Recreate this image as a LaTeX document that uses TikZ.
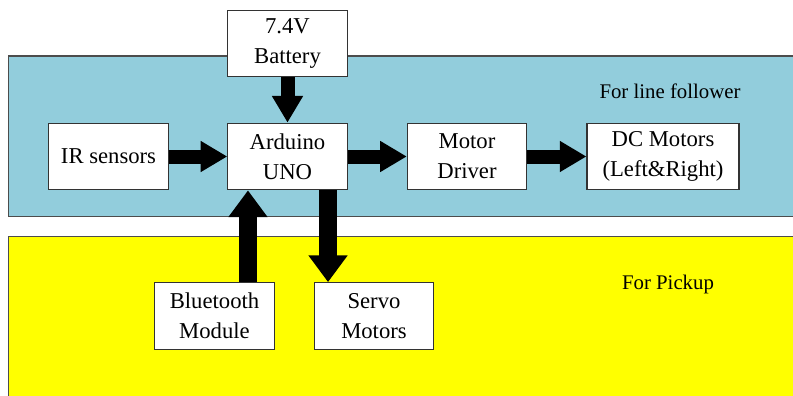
\documentclass[tikz,border=0pt]{standalone}
\usepackage{fontspec}
\setmainfont{Liberation Serif}
\usepackage{tikz}
\usetikzlibrary{arrows.meta, positioning}

\definecolor{panelblue}{HTML}{92CDDC}
\definecolor{panelyellow}{HTML}{FFFF00}

\begin{document}
\begin{tikzpicture}[x=0.75pt, y=-0.75pt,
  block/.style={draw=black!80, line width=0.8pt, fill=white, align=center,
    minimum width=89.5pt, minimum height=50pt, inner sep=0pt,
    font=\rmfamily\fontsize{17}{22.5}\selectfont},
  tag/.style={font=\rmfamily\fontsize{15.6}{18}\selectfont},
  bigarrow/.style={line width=10.5pt, -{Triangle[length=20pt, width=22pt]}},
  fatarrow/.style={line width=13.5pt, -{Triangle[length=20pt, width=28pt]}},
  panel/.style={draw=black!70, line width=0.8pt}]
  \useasboundingbox (0,0) rectangle (793,396);
  \clip (0,0) rectangle (793,396);
  % Panels
  \draw[panel, fill=panelblue] (8.5,56) rectangle (800,216.5);
  \draw[panel, fill=panelyellow] (8.5,236.5) rectangle (800,397);
  \node[tag] (lf) at (670,91) {For line follower};
  \node[tag] (pk) at (668,284) {For Pickup};
  % Blocks
  \node[block] (bat) at (287.5,43.5) {7.4V\\Battery};
  \node[block] (ard) at (287.5,156.5) {Arduino\\UNO};
  \node[block] (ir) at (108.5,156.5) {IR sensors};
  \node[block] (drv) at (467,156.5) {Motor\\Driver};
  \node[block, minimum width=114pt] (dc) at (663,156.5) {DC Motors\\(Left\&Right)};
  \node[block] (bt) at (214.5,316) {Bluetooth\\Module};
  \node[block] (srv) at (374,316) {Servo\\Motors};
  % Arrows
  \draw[bigarrow] (bat) -- (ard);
  \draw[bigarrow] (ir) -- (ard);
  \draw[bigarrow] (ard) -- (drv);
  \draw[bigarrow] (drv) -- (dc);
  \draw[fatarrow] ([xshift=25.1pt]bt.north) -- ([xshift=25.1pt]bt.north |- ard.south);
  \draw[fatarrow] ([xshift=30.4pt]ard.south) -- ([xshift=30.4pt]ard.south |- srv.north);
\end{tikzpicture}
\end{document}
